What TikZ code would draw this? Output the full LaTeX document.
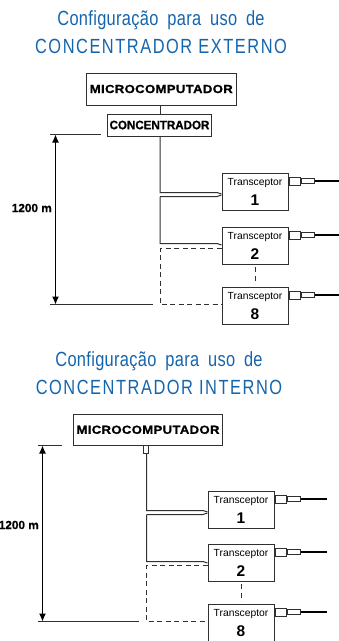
\documentclass[tikz,border=0pt]{standalone}
\usepackage{fontspec}
\setmainfont{Liberation Sans}
\newfontfamily\titlefont[FakeStretch=0.8,LetterSpace=1.6]{Liberation Sans}
\newfontfamily\titlecaps[FakeStretch=0.8,LetterSpace=7.5]{Liberation Sans}
\newfontfamily\wideb[FakeStretch=1.12,LetterSpace=3,FakeBold=1]{Liberation Sans Bold}
\newfontfamily\condb[FakeStretch=0.95,FakeBold=0.8]{Liberation Sans Bold}
\newfontfamily\dimb[FakeBold=0.6]{Liberation Sans Bold}
\newcommand{\wsp}{\ \hspace{4pt}}
\definecolor{titleblue}{HTML}{1565AD}
\definecolor{ln}{HTML}{303030}
\tikzset{
  titletext/.style={text=titleblue,inner sep=0pt,font=\titlefont\fontsize{20.5}{22}\selectfont},
  titlecapstext/.style={text=titleblue,inner sep=0pt,font=\titlecaps\fontsize{20.5}{22}\selectfont},
  boxbase/.style={draw=ln,line width=1pt,fill=white,inner sep=0pt,anchor=north west},
  wire/.style={draw=ln,line width=1pt},
  dashwire/.style={draw=ln,line width=1pt,dash pattern=on 5pt off 3.5pt},
  fiber/.style={draw=black,line width=1.5pt},
  dimline/.style={draw=ln,line width=1pt},
  dimarrow/.style={draw=black,line width=1pt,{Latex[length=8pt,width=7pt]}-{Latex[length=8pt,width=7pt]}},
  plug/.style={draw=ln,line width=1pt,fill=white,inner sep=0pt,anchor=north west},
  tlabel/.style={inner sep=0pt,font=\fontsize{10.3}{11}\selectfont},
  tnum/.style={inner sep=0pt,font=\bfseries\fontsize{15.5}{16}\selectfont},
  microtext/.style={inner sep=0pt,font=\wideb\fontsize{11.7}{12}\selectfont},
  conctext/.style={inner sep=0pt,font=\condb\fontsize{12.2}{13}\selectfont},
  dimtext/.style={inner sep=0pt,font=\dimb\fontsize{11.8}{13}\selectfont},
}
\usetikzlibrary{arrows.meta,calc}
\newcommand{\transc}[4]{% name, x, y, number
  \node[boxbase,minimum width=66pt,minimum height=37pt] (#1) at (#2,#3) {};
  \node[tlabel] (#1t) at ($(#1.north)+(0,10)$) {Transceptor};
  \node[tnum] (#1n) at ($(#1.north)+(0,27)$) {#4};
  \node[plug,minimum width=11pt,minimum height=8pt,anchor=west] (#1p) at ($(#1.north east)+(0,8)$) {};
  \node[plug,minimum width=13.5pt,minimum height=5.5pt,anchor=west] (#1q) at (#1p.east) {};
  \coordinate (#1e) at ($(#1q.east)+(26,0)$);
  \draw[fiber] (#1q.east) -- (#1e);
}
\begin{document}
\begin{tikzpicture}[x=1pt,y=-1pt]
\useasboundingbox (0,0) rectangle (338,641);
% top diagram
\node[titletext] (t1) at (161,20) {Configuração\wsp para\wsp uso\wsp de};
\node[titlecapstext] (t2) at (161,46) {CONCENTRADOR EXTERNO};
\node[boxbase,minimum width=150.5pt,minimum height=32pt] (m1) at (85.5,72.5) {};
\node[microtext] (m1t) at (m1.center) {MICROCOMPUTADOR};
\node[boxbase,minimum width=104pt,minimum height=22pt] (c1) at (107,113.5) {};
\node[conctext] (c1t) at (c1.center) {CONCENTRADOR};
\transc{a1}{221.5}{173}{1}
\transc{a2}{221.5}{227}{2}
\transc{a8}{221.5}{287}{8}
\coordinate (bus1) at (160,192.5);
\coordinate (bus1b) at (160,196.5);
\coordinate (bus2) at (160,243.5);
\coordinate (bus3) at (160,248.5);
\coordinate (bus4) at (160,304.5);
\draw[wire] (m1.south -| bus1) -- (c1.north -| bus1);
\draw[wire] (c1.south -| bus1) -- (bus1) -- (217,192.5) -- (221.5,194);
\draw[wire] (bus1b) -- (217,196.5) -- (221.5,195);
\draw[wire] (bus1b) -- (bus2) -- (217,243.5) -- (221.5,245);
\draw[dashwire] (221.5,248.5) -- (bus3) -- (bus4) -- (221.5,304.5);
\draw[dashwire] (255,267) -- (255,284);
\coordinate (d1a) at (55.5,134.5);
\coordinate (d1b) at (55.5,304.5);
\draw[dimline] (50,134.5) -- (101,134.5);
\draw[dimline] (50,304.5) -- (153,304.5);
\draw[dimarrow] (d1a) -- (d1b);
\node[dimtext,anchor=east] (d1t) at (52,208) {1200 m};
% bottom diagram
\node[titletext] (t3) at (159,361) {Configuração\wsp para\wsp uso\wsp de};
\node[titlecapstext] (t4) at (159,387) {CONCENTRADOR INTERNO};
\node[boxbase,minimum width=149pt,minimum height=31.5pt] (m2) at (73,413.5) {};
\node[microtext] (m2t) at (m2.center) {MICROCOMPUTADOR};
\node[plug,minimum width=5.5pt,minimum height=8pt,anchor=north] (s2) at (146,445) {};
\transc{b1}{207.5}{491}{1}
\transc{b2}{207.5}{544}{2}
\transc{b8}{207.5}{604}{8}
\coordinate (bu1) at (146.5,510.5);
\coordinate (bu1b) at (146.5,514.5);
\coordinate (bu2) at (146.5,561.5);
\coordinate (bu3) at (146.5,565.5);
\coordinate (bu4) at (146.5,621.5);
\draw[wire] (s2.south -| bu1) -- (bu1) -- (203,510.5) -- (207.5,512);
\draw[wire] (bu1b) -- (203,514.5) -- (207.5,513);
\draw[wire] (bu1b) -- (bu2) -- (203,561.5) -- (207.5,563);
\draw[dashwire] (207.5,565.5) -- (bu3) -- (bu4) -- (207.5,621.5);
\draw[dashwire] (241,584) -- (241,601);
\coordinate (d2a) at (42.5,445.5);
\coordinate (d2b) at (42.5,621.5);
\draw[dimline] (38,445.5) -- (62,445.5);
\draw[dimline] (38,621.5) -- (139,621.5);
\draw[dimarrow] (d2a) -- (d2b);
\node[dimtext,anchor=east] (d2t) at (39,525) {1200 m};
\end{tikzpicture}
\end{document}
